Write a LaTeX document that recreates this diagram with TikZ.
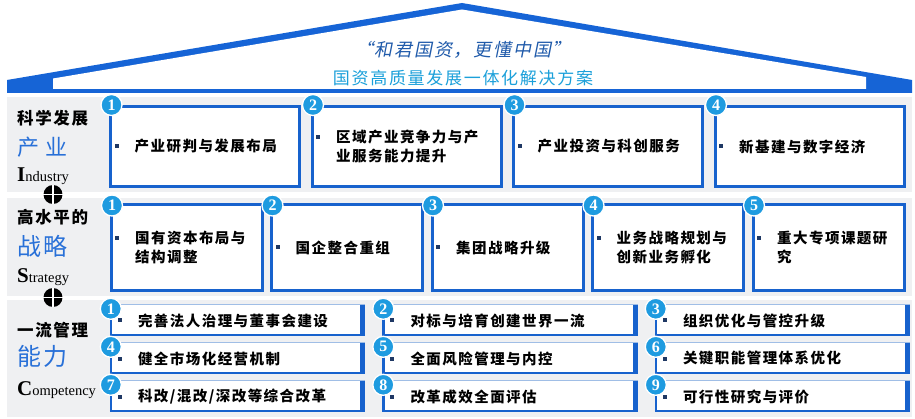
\documentclass[tikz,border=0pt]{standalone}
\usepackage{fontspec}
\setmainfont{Liberation Serif}
\newfontfamily\cjk{Noto Sans CJK SC}
\newfontfamily\cjkt[LetterSpace=10]{Noto Sans CJK SC}
\newfontfamily\cjksl[FakeSlant=0.2,LetterSpace=10]{Noto Sans CJK SC}
\definecolor{roofblue}{RGB}{22,100,214}
\definecolor{boxblue}{RGB}{23,98,205}
\definecolor{badgecyan}{RGB}{30,155,224}
\definecolor{panelgray}{RGB}{239,240,242}
\definecolor{labblue}{RGB}{40,112,216}
\definecolor{titledark}{RGB}{31,90,170}
\definecolor{titlecyan}{RGB}{27,160,218}
\definecolor{bulnavy}{RGB}{31,56,100}
\definecolor{toplight}{RGB}{160,190,230}
\begin{document}
\begin{tikzpicture}[x=1pt,y=-1pt,
  bigbox/.style={draw=boxblue,line width=3pt,fill=white,inner sep=0pt},
  sbox/.style={fill=white,draw=none,inner sep=0pt,minimum width=255pt,minimum height=31pt},
  badge/.style={circle,fill=badgecyan,draw=white,line width=1.3pt,minimum size=21pt,inner sep=0pt,text=white,font=\bfseries\fontsize{16}{16}\selectfont},
  bul/.style={rectangle,fill=bulnavy,minimum size=4pt,inner sep=0pt},
  boxtxt/.style={anchor=west,align=left,inner sep=0pt,font=\cjkt\bfseries\fontsize{14.5}{19}\selectfont},
  labblack/.style={anchor=west,inner sep=0pt,font=\cjkt\bfseries\fontsize{16.5}{17}\selectfont},
  labblue/.style={anchor=west,inner sep=0pt,text=labblue,font=\cjkt\fontsize{24}{24}\selectfont},
  eng/.style={anchor=base west,inner sep=0pt,font=\fontsize{14.5}{15}\selectfont},
  pluscirc/.style={circle,fill=black,minimum size=19pt,inner sep=0pt},
  crossline/.style={white,line width=1.8pt},
  thinline/.style={toplight,line width=0.8pt},
  blueline/.style={boxblue,line width=2.2pt},
  rightbar/.style={boxblue,line width=5pt}
]
\useasboundingbox (0,0) rectangle (915,419);
\fill[white] (0,0) rectangle (915,419);
% roof
\fill[roofblue] (7,93) -- (7,80) -- (462,3) -- (912,80) -- (912,93) -- cycle;
\fill[white] (53,89) -- (53,78.5) -- (462,9.5) -- (866,77) -- (866,89) -- cycle;
\node[font=\cjksl\fontsize{18}{18}\selectfont,text=titledark] (t1) at (463,50) {“和君国资，更懂中国”};
\node[font=\cjkt\fontsize{17}{18}\selectfont,text=titlecyan] (t2) at (463,78) {国资高质量发展一体化解决方案};
% panels
\fill[panelgray] (7,97) rectangle (912,192);
\fill[panelgray] (7,198) rectangle (912,296);
\fill[panelgray] (7,300) rectangle (912,417);
% left labels
\node[labblack] (l1a) at (17,118) {科学发展};
\node[labblue,font=\cjk\fontsize{22}{22}\selectfont] (l1b) at (17,147) {产\hspace{6pt}业};
\node[eng] (l1c) at (17,182) {{\bfseries\fontsize{21}{21}\selectfont I}ndustry};
\node[labblack] (l2a) at (17,217) {高水平的};
\node[labblue] (l2b) at (17,246) {战略};
\node[eng] (l2c) at (17,283) {{\bfseries\fontsize{21}{21}\selectfont S}trategy};
\node[labblack] (l3a) at (17,330) {一流管理};
\node[labblue] (l3b) at (17,356) {能力};
\node[eng] (l3c) at (17,395) {{\bfseries\fontsize{21}{21}\selectfont C}ompetency};
% plus circles
\node[pluscirc] (pl1) at (53,194.5) {};
\draw[crossline] (pl1.north) -- (pl1.south);
\draw[crossline] (pl1.west) -- (pl1.east);
\node[pluscirc] (pl2) at (53,297.5) {};
\draw[crossline] (pl2.north) -- (pl2.south);
\draw[crossline] (pl2.west) -- (pl2.east);
% row 1
\foreach \idx/\cx/\off/\txt in {1/205/0/{产业研判与发展布局},2/406.5/9.5/{区域产业竞争力与产\\业服务能力提升},3/608/0/{产业投资与科创服务},4/809.5/0/{新基建与数字经济}}{
  \node[bigbox,minimum width=189pt,minimum height=80pt] (a\idx) at (\cx,146.5) {};
  \node[boxtxt] (at\idx) at ([xshift=25.5pt]a\idx.west) {\txt};
  \node[bul] (ab\idx) at ([xshift=7.5pt,yshift=\off pt]a\idx.west) {};
  \node[badge] (ag\idx) at ([xshift=2.5pt]a\idx.north west) {\idx};
}
% row 2
\foreach \idx/\cx/\off/\txt in {1/186.5/9.5/{国有资本布局与\\结构调整},2/347/0/{国企整合重组},3/507.5/0/{集团战略升级},4/668/9.5/{业务战略规划与\\创新业务孵化},5/828.5/9.5/{重大专项课题研\\究}}{
  \node[bigbox,minimum width=151pt,minimum height=86pt] (b\idx) at (\cx,247.5) {};
  \node[boxtxt] (bt\idx) at ([xshift=25.5pt]b\idx.west) {\txt};
  \node[bul] (bb\idx) at ([xshift=7.5pt,yshift=\off pt]b\idx.west) {};
  \node[badge] (bg\idx) at ([xshift=2.5pt,yshift=-2.5pt]b\idx.north west) {\idx};
}
% row 3
\foreach \idx/\col/\row/\txt in {1/0/0/{完善法人治理与董事会建设},2/1/0/{对标与培育创建世界一流},3/2/0/{组织优化与管控升级},4/0/1/{健全市场化经营机制},5/1/1/{全面风险管理与内控},6/2/1/{关键职能管理体系优化},7/0/2/{科改/混改/深改等综合改革},8/1/2/{改革成效全面评估},9/2/2/{可行性研究与评价}}{
  \node[sbox] (s\idx) at ({237.5+\col*272.5},{320.5+\row*38}) {};
  \draw[thinline] (s\idx.north west) -- (s\idx.north east);
  \draw[blueline] ([yshift=1.1pt]s\idx.south west) -- ([yshift=1.1pt]s\idx.south east);
  \draw[blueline] ([xshift=1.1pt]s\idx.north west) -- ([xshift=1.1pt]s\idx.south west);
  \draw[rightbar] ([xshift=-2.5pt]s\idx.north east) -- ([xshift=-2.5pt]s\idx.south east);
  \node[bul] (sb\idx) at ([xshift=10pt]s\idx.west) {};
  \node[boxtxt] (st\idx) at ([xshift=28pt]s\idx.west) {\txt};
  \node[badge] (sg\idx) at ([xshift=1pt,yshift=-4pt]s\idx.north west) {\idx};
}
\end{tikzpicture}
\end{document}
